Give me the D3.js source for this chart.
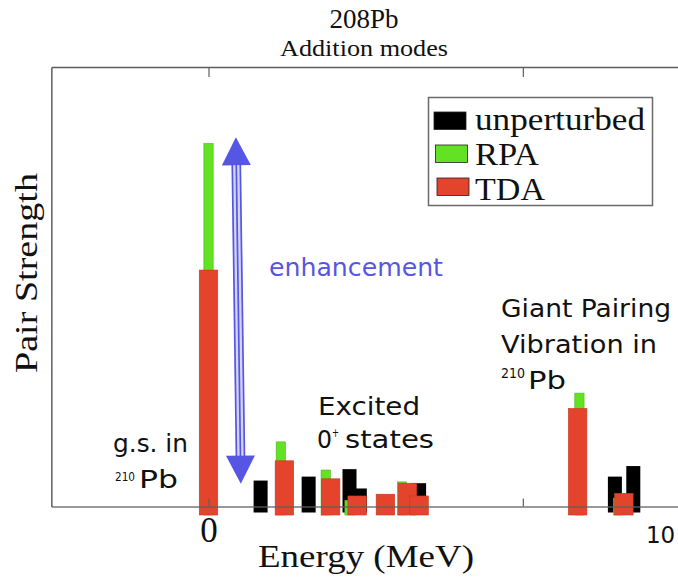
<!DOCTYPE html>
<html>
<head>
<meta charset="utf-8">
<script src="https://cdn.jsdelivr.net/npm/d3@7"></script>
<style>
  body { margin: 0; background: #fff; }
  svg { display: block; }
</style>
</head>
<body>
<svg id="chart" width="678" height="585"></svg>
<script>
// Data (energy in MeV, strength in arbitrary units)
var unpertEnergy = [1.16, 2.23, 3.14, 3.37, 4.69, 9.05, 9.46];
var unpertStrength = [5.9, 6.8, 8.5, 4.1, 5.3, 6.8, 9.2];
var rpaEnergy = [0.0, 1.61, 2.61, 3.14, 4.31, 8.26, 9.12];
var rpaStrength = [82.6, 14.7, 8.3, 1.4, 5.6, 25.8, 1.9];
var tdaEnergy = [0.0, 1.69, 2.72, 3.31, 3.94, 4.43, 4.69, 8.22, 9.25];
var tdaStrength = [53.8, 10.4, 6.3, 2.4, 2.8, 5.3, 2.4, 22.3, 3.0];

var seriesNames = ["unperturbed", "RPA", "TDA"];
var tickValues = [0, 7];
var tickLabels = ["0", ""];

// Colours
var black = "#000000";
var green = "#62e222";
var red = "#e5442c";
var blue = "#5656e4";
var frameGray = "#5e5e5e";
var seriesColors = [black, green, red];

var svg = d3.select("#chart");

// Scales
var xScale = d3.scaleLinear()
               .domain([-3.5, 10.5])
               .range([51.35, 680]);
var yScale = d3.scaleLinear()
               .domain([0, 100])
               .range([506.5, 67]);

var zip = function(e, s) {
  return e.map(function(d, i) { return { e: d, s: s[i] }; });
};

// bar groups: black behind, then green, red on top
var barSpecs = [
  { data: zip(unpertEnergy, unpertStrength), color: black, width: 14, below: 6, stroke: "none" },
  { data: zip(rpaEnergy, rpaStrength), color: green, width: 9.3, below: 8.5, stroke: "#4fb81a" },
  { data: zip(tdaEnergy, tdaStrength), color: red, width: 18.5, below: 8.5, stroke: "#c9361f" }
];

var bars = svg.append("g").attr("class", "bars");
barSpecs.forEach(function(spec) {
  bars.append("g")
      .selectAll("rect")
      .data(spec.data)
      .enter()
      .append("rect")
      .attr("x", function(d) { return xScale(d.e) - spec.width / 2; })
      .attr("y", function(d) { return yScale(d.s); })
      .attr("width", spec.width)
      .attr("height", function(d) { return yScale(0) - yScale(d.s) + spec.below; })
      .style("fill", spec.color)
      .style("stroke", spec.stroke)
      .style("stroke-width", 0.6);
});

// Axes (frame), drawn over the bars
var bottomAxis = d3.axisBottom(xScale)
                   .tickValues(tickValues)
                   .tickSizeInner(-8)
                   .tickSizeOuter(0)
                   .tickPadding(11)
                   .tickFormat(function(d, i) { return tickLabels[i]; });
var gx = svg.append("g")
            .attr("transform", "translate(0," + yScale(0) + ")")
            .call(bottomAxis);
gx.select(".domain").style("stroke", frameGray).style("stroke-width", 1.5).style("stroke-opacity", 0.85);
gx.selectAll(".tick line").style("stroke", frameGray).style("stroke-width", 1.2);
gx.selectAll(".tick text")
  .style("font-family", "'Liberation Serif', serif")
  .style("font-size", "35px")
  .style("fill", "#111");

var topAxis = d3.axisTop(xScale)
                .tickValues(tickValues)
                .tickSizeInner(-10)
                .tickSizeOuter(0)
                .tickFormat("");
var gt = svg.append("g")
            .attr("transform", "translate(0," + yScale(100) + ")")
            .call(topAxis);
gt.select(".domain").style("stroke", frameGray).style("stroke-width", 1.5);
gt.selectAll(".tick line").style("stroke", frameGray).style("stroke-width", 1.2);

var leftAxis = d3.axisLeft(yScale).tickValues([]).tickSizeOuter(0);
var gy = svg.append("g")
            .attr("transform", "translate(" + xScale(-3.5) + ",0)")
            .call(leftAxis);
gy.select(".domain").style("stroke", frameGray).style("stroke-width", 1.5);

// extra "10" label (sans, pasted in the original)
svg.append("text")
   .attr("x", xScale(10) + 3)
   .attr("y", 543)
   .attr("text-anchor", "middle")
   .style("font-family", "'DejaVu Sans', sans-serif")
   .style("font-size", "23px")
   .style("fill", "#111")
   .text("10");

// Titles
svg.append("text")
   .attr("x", 364).attr("y", 28)
   .attr("text-anchor", "middle")
   .style("font-family", "'Liberation Serif', serif")
   .style("font-size", "27px")
   .style("fill", "#111")
   .text("208Pb");
svg.append("text")
   .attr("x", 364).attr("y", 55.5)
   .attr("text-anchor", "middle")
   .attr("textLength", 168)
   .attr("lengthAdjust", "spacingAndGlyphs")
   .style("font-family", "'Liberation Serif', serif")
   .style("font-size", "24px")
   .style("fill", "#111")
   .text("Addition modes");

// Axis titles
svg.append("text")
   .attr("x", 366).attr("y", 567)
   .attr("text-anchor", "middle")
   .attr("textLength", 216)
   .attr("lengthAdjust", "spacingAndGlyphs")
   .style("font-family", "'Liberation Serif', serif")
   .style("font-size", "31px")
   .style("fill", "#111")
   .text("Energy (MeV)");
svg.append("text")
   .attr("transform", "translate(37,273) rotate(-90)")
   .attr("text-anchor", "middle")
   .attr("textLength", 200)
   .attr("lengthAdjust", "spacingAndGlyphs")
   .style("font-family", "'Liberation Serif', serif")
   .style("font-size", "32px")
   .style("fill", "#111")
   .text("Pair Strength");

// Legend
var legendWidths = [170, 64, 70];
var legend = svg.append("g").attr("class", "legend");
legend.append("rect")
      .attr("x", 428.5).attr("y", 97.5)
      .attr("width", 224).attr("height", 108)
      .style("fill", "#fff")
      .style("stroke", "#6a6a6a")
      .style("stroke-width", 1.5);
seriesNames.forEach(function(name, i) {
  legend.append("rect")
        .attr("x", 434 + i * 1.5).attr("y", 112 + i * 33)
        .attr("width", 32).attr("height", 17.5)
        .style("fill", seriesColors[i])
        .style("stroke", "#222")
        .style("stroke-width", 0.8);
  legend.append("text")
        .attr("x", 475).attr("y", 130 + i * 35)
        .attr("textLength", legendWidths[i])
        .attr("lengthAdjust", "spacingAndGlyphs")
        .style("font-family", "'Liberation Serif', serif")
        .style("font-size", "31px")
        .style("fill", "#111")
        .text(name);
});

// Enhancement arrow (double headed)
var p1 = [xScale(0.61), yScale(84)];
var p2 = [xScale(0.72), yScale(5.2)];
var adx = p2[0] - p1[0], ady = p2[1] - p1[1];
var alen = Math.hypot(adx, ady);
var ux = adx / alen, uy = ady / alen, px = -uy, py = ux;
var pt = function(t, s) { return [p1[0] + ux * t + px * s, p1[1] + uy * t + py * s]; };
var headLen = 28, headW = 14.5;
var arrow = svg.append("g").attr("class", "arrow");
arrow.append("path")
     .attr("d", d3.line()([pt(headLen, -4.5), pt(alen - headLen, -4.5), pt(alen - headLen, 4.5), pt(headLen, 4.5)]) + "Z")
     .style("fill", "#d4d4f6");
[-4, 0, 4].forEach(function(s) {
  arrow.append("path")
       .attr("d", d3.line()([pt(headLen - 2, s), pt(alen - headLen + 2, s)]))
       .style("stroke", blue)
       .style("stroke-width", 1.7)
       .style("fill", "none");
});
arrow.append("path")
     .attr("d", d3.line()([pt(0, 0), pt(headLen, -headW), pt(headLen, headW)]) + "Z")
     .style("fill", blue);
arrow.append("path")
     .attr("d", d3.line()([pt(alen, 0), pt(alen - headLen, -headW), pt(alen - headLen, headW)]) + "Z")
     .style("fill", blue);

// Annotations
var annoFont = "'DejaVu Sans', sans-serif";
var addText = function(x, y, str, len, size, color) {
  return svg.append("text")
            .attr("x", x).attr("y", y)
            .attr("textLength", len)
            .attr("lengthAdjust", "spacingAndGlyphs")
            .style("font-family", annoFont)
            .style("font-size", (size || 24) + "px")
            .style("fill", color || "#111")
            .text(str);
};
addText(269, 276, "enhancement", 174, 24, blue);
addText(501, 317, "Giant Pairing", 170);
addText(501, 353, "Vibration in", 156);
addText(318, 415, "Excited", 102);
addText(113, 452, "g.s. in", 75);

// superscripted labels: small "210" then "Pb"
addText(501, 378, "210", 24, 14);
addText(528, 389, "Pb", 38);
addText(115, 481, "210", 20, 13);
addText(139, 488, "Pb", 39);

addText(317, 448, "0", 15);
addText(332, 437, "+", 7, 12);
addText(345, 448, "states", 89);
</script>
</body>
</html>
